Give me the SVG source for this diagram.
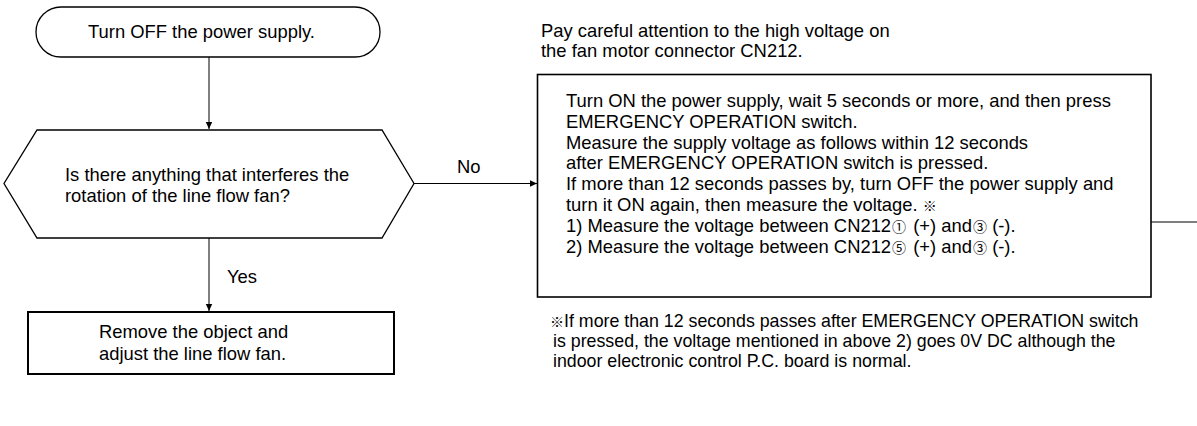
<svg xmlns="http://www.w3.org/2000/svg" width="1197" height="426" viewBox="0 0 1197 426">
<defs>
<marker id="arr" markerWidth="8" markerHeight="8" refX="7" refY="4" orient="auto" markerUnits="userSpaceOnUse">
<path d="M0,0.8 L7,4 L0,7.2 Z" fill="#000"/>
</marker>
<style>
text{font-family:"Liberation Sans",Arial,"Noto Sans CJK JP",sans-serif;font-size:18.4px;fill:#000}
.cd{font-family:"Noto Sans CJK JP",sans-serif;font-size:14px}
.fn{font-size:17.8px}
.node{fill:#fff;stroke:#000}
.conn{fill:none;stroke:#000;stroke-width:1}
</style>
</defs>
<rect width="1197" height="426" fill="#fff"/>
<g id="connectors">
<line class="conn" x1="209" y1="57" x2="209" y2="129" marker-end="url(#arr)"/>
<line class="conn" x1="209" y1="238" x2="209" y2="311" marker-end="url(#arr)"/>
<line class="conn" x1="414" y1="183.5" x2="537" y2="183.5" marker-end="url(#arr)"/>
<line class="conn" x1="1151" y1="222" x2="1197" y2="222"/>
<text x="457" y="173">No</text>
<text x="227" y="283">Yes</text>
</g>
<g id="start">
<rect class="node" x="36" y="7" width="344" height="50" rx="25" ry="25" stroke-width="1.3"/>
<text x="88" y="38">Turn OFF the power supply.</text>
</g>
<g id="decision">
<polygon class="node" points="37,130 382,130 414,183.5 382,238 37,238 4,183.5" stroke-width="1.3"/>
<text x="65" y="181">Is there anything that interferes the</text>
<text x="65" y="202">rotation of the line flow fan?</text>
</g>
<g id="remove">
<rect class="node" x="28" y="312" width="366" height="62" stroke-width="2"/>
<text x="99" y="338">Remove the object and</text>
<text x="99" y="360">adjust the line flow fan.</text>
</g>
<g id="caution">
<text x="541" y="37">Pay careful attention to the high voltage on</text>
<text x="541" y="57">the fan motor connector CN212.</text>
</g>
<g id="measure">
<rect class="node" x="537.5" y="74.5" width="613.5" height="222.5" stroke-width="1.6"/>
<text x="566" y="107">Turn ON the power supply, wait 5 seconds or more, and then press</text>
<text x="566" y="127.8">EMERGENCY OPERATION switch.</text>
<text x="566" y="148.6">Measure the supply voltage as follows within 12 seconds</text>
<text x="566" y="169.4">after EMERGENCY OPERATION switch is pressed.</text>
<text x="566" y="190.2">If more than 12 seconds passes by, turn OFF the power supply and</text>
<text x="566" y="211">turn it ON again, then measure the voltage. <tspan class="cd" font-size="13">※</tspan></text>
<text x="566" y="231.8">1) Measure the voltage between CN212<tspan class="cd" dx="1">①</tspan><tspan dx="2"> (+) and</tspan><tspan class="cd" dx="1">③</tspan> (-).</text>
<text x="566" y="252.6">2) Measure the voltage between CN212<tspan class="cd" dx="1">⑤</tspan><tspan dx="2"> (+) and</tspan><tspan class="cd" dx="1">③</tspan> (-).</text>
</g>
<g id="footnote">
<text class="fn" x="550" y="327"><tspan class="cd" font-size="13">※</tspan>If more than 12 seconds passes after EMERGENCY OPERATION switch</text>
<text class="fn" x="553" y="347">is pressed, the voltage mentioned in above 2) goes 0V DC although the</text>
<text class="fn" x="553" y="367">indoor electronic control P.C. board is normal.</text>
</g>
</svg>
